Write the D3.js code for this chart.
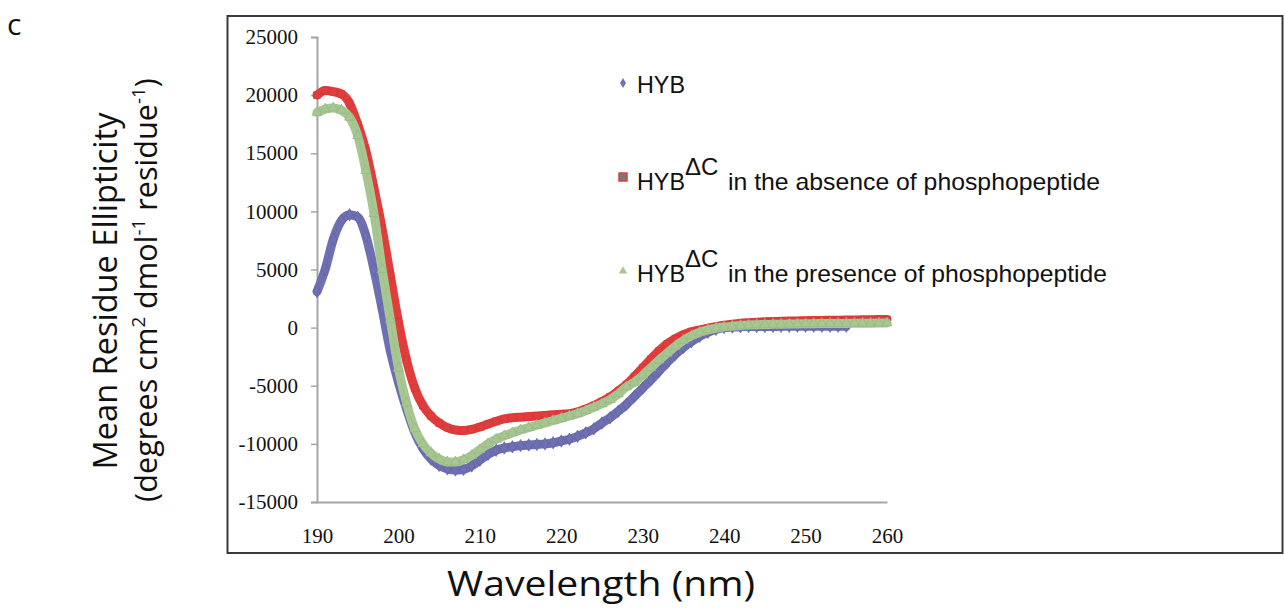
<!DOCTYPE html>
<html><head><meta charset="utf-8">
<script src="https://cdn.jsdelivr.net/npm/d3@7"></script>
<style>body{margin:0;background:#fff}svg{display:block}</style>
</head><body>
<svg id="c" width="1285" height="613"></svg>
<script>
// ---- data ----
const wlBlue = d3.range(190, 256); // 190..255
const hyb = [3100,5000,7600,9200,9700,9500,7900,5000,1600,-2000,-4700,-7000,-9000,-10400,-11300,-11850,-12150,-12250,-12200,-11900,-11400,-10900,-10550,-10350,-10250,-10150,-10100,-10050,-10000,-9900,-9750,-9600,-9350,-9050,-8700,-8200,-7750,-7200,-6600,-5900,-5200,-4500,-3750,-3000,-2300,-1700,-1200,-750,-400,-150,0,50,80,100,100,100,100,110,110,120,120,120,120,120,120,120];
const wlRG = d3.range(190, 261); // 190..260
const absence = [20000,20400,20300,20100,19300,17500,15200,12000,8500,4500,500,-2800,-5200,-6700,-7600,-8200,-8600,-8800,-8850,-8750,-8550,-8300,-8050,-7850,-7750,-7700,-7650,-7600,-7550,-7500,-7450,-7400,-7250,-7000,-6700,-6350,-5950,-5450,-4900,-4200,-3450,-2700,-2000,-1400,-950,-600,-350,-200,-50,80,200,300,380,430,470,500,520,540,560,580,600,610,620,630,640,650,660,670,680,690,700];
const presence = [18500,18800,18900,18700,18100,16500,13500,9800,5000,700,-3500,-6500,-8700,-10000,-10800,-11300,-11550,-11550,-11350,-11000,-10500,-10000,-9600,-9300,-9050,-8800,-8600,-8400,-8200,-8000,-7800,-7600,-7400,-7150,-6850,-6550,-6200,-5700,-5100,-4700,-4100,-3450,-2800,-2200,-1600,-1100,-700,-400,-200,-50,50,120,180,220,250,270,290,300,310,320,330,340,350,355,360,365,370,375,380,390,400];
const yTicks = [-15000,-10000,-5000,0,5000,10000,15000,20000,25000];
const xTicks = [190,200,210,220,230,240,250,260];
const seriesNames = ["HYB","HYB","HYB"];
const seriesSuffix = ["", "in the absence of phosphopeptide", "in the presence of phosphopeptide"];

const svg = d3.select("#c");
svg.append("rect").attr("width",1285).attr("height",613).attr("fill","#fff");

// frame
svg.append("rect").attr("x",227.5).attr("y",16).attr("width",1055).attr("height",537)
  .attr("fill","none").attr("stroke","#3a3a3a").attr("stroke-width",2);

const x = d3.scaleLinear().domain([190,260]).range([317,887]);
const y = d3.scaleLinear().domain([-15000,25000]).range([502,37]);

// y axis
const ya = svg.append("g").attr("transform","translate(317,0)")
  .call(d3.axisLeft(y).tickValues(yTicks).tickSize(6).tickPadding(13).tickFormat(d=>String(d)));
ya.select(".domain").attr("stroke","#a6a6a6").attr("stroke-width",2);
ya.selectAll(".tick line").attr("stroke","#a6a6a6").attr("stroke-width",1.5);
ya.selectAll("text").attr("font-family","'Liberation Serif','Times New Roman',serif").attr("font-size",21).attr("fill","#111");

// x axis
const xa = svg.append("g").attr("transform","translate(0,502)")
  .call(d3.axisBottom(x).tickValues(xTicks).tickSize(0).tickPadding(26).tickFormat(d=>String(d)));
xa.select(".domain").attr("stroke","#a6a6a6").attr("stroke-width",2);
xa.selectAll("text").attr("font-family","'Liberation Serif','Times New Roman',serif").attr("font-size",21).attr("fill","#111");

const colors = ["#6e70b2","#e23d3d","#a6c692"];
const dark = ["#5e60a4","#cf3838","#93b47f"];
const sets = [
  {wl: wlBlue, v: hyb, shape: d3.symbolDiamond},
  {wl: wlRG, v: absence, shape: d3.symbolSquare},
  {wl: wlRG, v: presence, shape: d3.symbolTriangle}
];
const line = d3.line().x(d=>x(d[0])).y(d=>y(d[1])).curve(d3.curveMonotoneX);
sets.forEach((s,i)=>{
  const pts = s.wl.map((w,j)=>[w,s.v[j]]);
  const g = svg.append("g");
  g.append("path").datum(pts).attr("d",line).attr("fill","none")
    .attr("stroke",colors[i]).attr("stroke-width",9).attr("stroke-linejoin","round").attr("stroke-linecap","round");
  g.append("path").datum(pts).attr("d",line).attr("fill","none")
    .attr("stroke",dark[i]).attr("stroke-width",1).attr("opacity",0.3);
  g.selectAll("path.m").data(pts).enter().append("path").attr("class","m")
    .attr("transform",d=>`translate(${x(d[0])},${y(d[1])})`)
    .attr("d",d3.symbol().type(s.shape).size(45))
    .attr("fill",colors[i]).attr("stroke",dark[i]).attr("stroke-width",0.6);
});

// legend
const legY = [93,190,282];
const lg = svg.append("g").attr("font-family","'Liberation Sans',Arial,sans-serif").attr("font-size",24).attr("fill","#111");
lg.append("path").attr("transform","translate(623,83)").attr("d",d3.symbol().type(d3.symbolDiamond).size(30)).attr("fill",colors[0]);
lg.append("rect").attr("x",619).attr("y",173).attr("width",8).attr("height",8).attr("fill","#7a7a7a").attr("stroke",colors[1]).attr("stroke-width",1.5);
lg.append("path").attr("transform","translate(623,271)").attr("d",d3.symbol().type(d3.symbolTriangle).size(30)).attr("fill",colors[2]);
const sufLen = [0,372,379];
legY.forEach((yy,i)=>{
  lg.append("text").attr("x",637).attr("y",yy).attr("textLength",48).attr("lengthAdjust","spacingAndGlyphs").text(seriesNames[i]);
  if(i>0){
    lg.append("text").attr("x",685).attr("y",yy-15).text("\u0394C");
    lg.append("text").attr("x",728).attr("y",yy).attr("textLength",sufLen[i]).attr("lengthAdjust","spacingAndGlyphs").text(seriesSuffix[i]);
  }
});

// titles
const tf = "'Open Sans','Noto Sans',sans-serif";
svg.append("text").attr("x",7).attr("y",35).attr("font-family",tf).attr("font-size",30).attr("fill","#111").text("c");
svg.append("text").attr("x",601).attr("y",596).attr("text-anchor","middle").attr("font-family",tf).attr("font-size",34).attr("fill","#111")
  .attr("textLength",308).attr("lengthAdjust","spacingAndGlyphs").text("Wavelength (nm)");
svg.append("text").attr("transform","translate(117,291) rotate(-90)").attr("text-anchor","middle")
  .attr("font-family",tf).attr("font-size",33).attr("fill","#111").attr("textLength",357).attr("lengthAdjust","spacingAndGlyphs")
  .text("Mean Residue Ellipticity");
const yt2 = svg.append("text").attr("transform","translate(157,290) rotate(-90)").attr("text-anchor","middle")
  .attr("font-family",tf).attr("font-size",31).attr("fill","#111");
yt2.append("tspan").text("(degrees cm");
yt2.append("tspan").attr("dy",-12).attr("font-size",19).text("2");
yt2.append("tspan").attr("dy",12).text(" dmol");
yt2.append("tspan").attr("dy",-12).attr("font-size",19).text("-1");
yt2.append("tspan").attr("dy",12).text(" residue");
yt2.append("tspan").attr("dy",-12).attr("font-size",19).text("-1");
yt2.append("tspan").attr("dy",12).text(")");
// fit line 2 width to ~424px
const w2 = yt2.node().getComputedTextLength();
if (w2 > 0) yt2.attr("font-size", 31*424/w2).selectAll("tspan").each(function(){
  const fs = d3.select(this).attr("font-size"); if(fs) d3.select(this).attr("font-size", fs*424/w2);
});
</script>
</body></html>
